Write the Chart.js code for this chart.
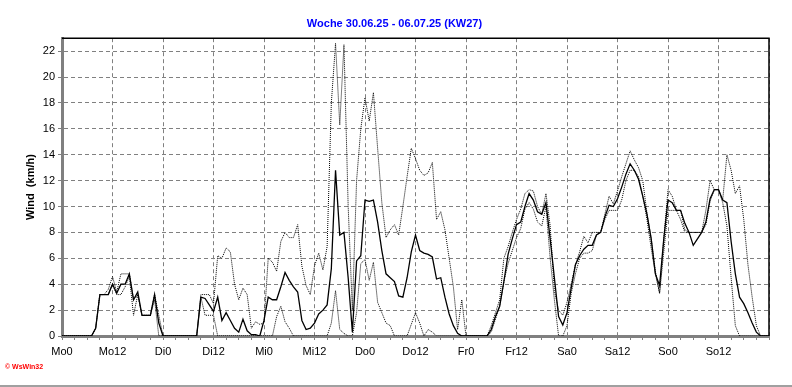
<!DOCTYPE html>
<html lang="de">
<head>
  <title>Wind Woche KW27</title>
  <meta charset="utf-8">
  <script src="https://cdn.jsdelivr.net/npm/chart.js@4.4.1/dist/chart.umd.min.js"></script>
  <style>
    body { margin: 0; background: #fff; }
    #wrap { position: relative; width: 792px; height: 387px; }
    #bottomline { position: absolute; left: 0; top: 385px; width: 792px; height: 2px; background: #a0a0a0; }
    #copy { position: absolute; left: 5px; top: 363px; color: #ff0000; font: bold 7px Arial, "Liberation Sans", sans-serif; }
  </style>
</head>
<body>
<div id="wrap">
  <canvas id="windChart" width="792" height="387"></canvas>
  <div id="copy">&copy; WsWin32</div>
  <div id="bottomline"></div>
</div>

<script>
  // labels under the x axis, one every 12 hours
  const dayLabels = ["Mo0", "Mo12", "Di0", "Di12", "Mi0", "Mi12", "Do0", "Do12", "Fr0", "Fr12", "Sa0", "Sa12", "So0", "So12"]
  const stepHours = 1

  // Wind mean (km/h), one value per hour from Mo 0:00
  const windMean = [
    0, 0, 0, 0, 0, 0, 0, 0, 0.6, 3.2, 3.2, 3.2,
    4.0, 3.3, 4.0, 4.0, 4.8, 2.8, 3.4, 1.6, 1.6, 1.6, 3.2, 1.0,
    0, 0, 0, 0, 0, 0, 0, 0, 0, 3.0, 2.9, 2.4,
    1.9, 3.0, 1.2, 1.8, 1.2, 0.6, 0.3, 1.3, 0.4, 0.1, 0.1, 0,
    1.2, 3.0, 2.8, 2.8, 3.8, 4.9, 4.3, 3.8, 3.4, 1.2, 0.5, 0.6,
    1.0, 1.7, 2.0, 2.4, 5.2, 12.8, 7.8, 8.0, 4.5, 0.3, 5.8, 6.2,
    10.5, 10.4, 10.5, 8.8, 6.6, 4.8, 4.5, 4.2, 3.1, 3.0, 4.5, 6.5,
    7.8, 6.6, 6.4, 6.3, 6.1, 4.4, 4.5, 3.0, 1.7, 0.8, 0.2, 0,
    0, 0, 0, 0, 0, 0, 0.5, 1.5, 2.3, 4.2, 6.3, 7.5,
    8.6, 8.8, 10.0, 11.0, 10.5, 9.6, 9.4, 10.3, 7.5, 4.5, 1.5, 0.85,
    1.8, 3.7, 5.5, 6.2, 6.7, 7.0, 7.0, 7.8, 8.0, 9.2, 10.1, 10.0,
    10.6, 11.5, 12.5, 13.3, 12.8, 12.1, 10.8, 9.4, 7.5, 4.8, 3.9, 7.5,
    10.5, 10.3, 9.7, 9.7, 8.7, 8.0, 7.0, 7.5, 8.0, 8.8, 10.6, 11.3,
    11.3, 10.5, 10.3, 7.3, 4.8, 3.0, 2.5, 1.8, 1.0, 0.3, 0, 0,
    0
  ]

  // Boeen / upper dotted line
  const windMax = [
    0, 0, 0, 0, 0, 0, 0, 0, 0.6, 3.2, 3.2, 3.6,
    4.6, 3.4, 4.8, 4.8, 4.8, 2.8, 3.2, 1.6, 1.6, 1.6, 3.2, 1.6,
    0, 0, 0, 0, 0, 0, 0, 0, 0, 3.2, 3.2, 3.2,
    2.5, 6.2, 6.0, 6.8, 6.5, 4.0, 2.8, 3.7, 3.2, 0.6, 1.1, 0.9,
    1.0, 6.0, 5.7, 5.0, 7.3, 8.0, 7.6, 7.6, 8.6, 5.4, 3.9, 3.2,
    5.4, 6.4, 5.1, 6.9, 18.0, 22.6, 16.3, 22.5, 10.0, 2.0, 12.0, 16.0,
    18.4, 16.6, 18.8, 14.5, 10.3, 7.6, 8.2, 8.6, 7.8, 10.0, 12.3, 14.5,
    13.7, 12.8, 12.4, 12.6, 13.4, 9.0, 9.6, 8.2, 6.0, 3.8, 0.5, 2.8,
    0, 0, 0, 0, 0, 0, 0.8, 1.8, 2.8, 6.0, 6.9, 8.0,
    9.0, 9.8, 11.0, 11.3, 11.2, 10.0, 9.4, 11.0, 8.5, 3.5, 2.0, 1.6,
    2.6, 4.0, 5.5, 6.5, 7.7, 7.2, 8.0, 8.0, 8.0, 9.4, 10.8, 10.2,
    11.2, 12.3, 13.3, 14.3, 13.6, 13.0, 12.0, 9.5, 7.6, 5.0, 3.3, 7.5,
    11.3, 10.8, 9.7, 9.7, 8.2, 8.0, 8.0, 8.0, 8.0, 9.7, 12.0, 11.3,
    11.3, 10.5, 14.0, 12.8, 11.0, 11.6, 9.0, 5.5, 3.0, 0.8, 0, 0,
    0
  ]

  // lower dotted line
  const windMin = [
    0, 0, 0, 0, 0, 0, 0, 0, 0.6, 3.2, 3.2, 3.2,
    4.0, 3.2, 3.2, 3.8, 4.6, 1.6, 3.2, 1.6, 1.6, 1.6, 2.8, 0,
    0, 0, 0, 0, 0, 0, 0, 0, 0, 3.0, 1.6, 1.6,
    1.6, 0, 0, 0, 0, 0, 0, 0, 0, 0, 0, 0,
    0, 0, 0, 1.5, 2.3, 1.1, 0.6, 0, 0, 0, 0, 0,
    0, 0, 0, 0, 1.0, 3.5, 0.5, 0.2, 0, 0, 1.8, 5.6,
    5.9, 4.3, 5.7, 2.6, 1.8, 1.0, 0.8, 0, 0, 0, 0, 0.9,
    1.8, 1.0, 0, 0.5, 0.3, 0, 0, 0, 0, 0, 0, 0,
    0, 0, 0, 0, 0, 0, 0.3, 1.3, 2.3, 4.2, 5.6, 6.6,
    7.6, 8.3, 9.8, 10.3, 9.8, 8.8, 8.5, 10.0, 6.0, 2.8, 0, 0,
    0.8, 3.3, 4.8, 6.0, 6.4, 6.4, 6.6, 7.8, 8.0, 9.0, 9.7, 9.7,
    9.7, 10.5, 12.0, 12.8, 12.8, 12.3, 10.8, 9.0, 6.8, 4.8, 3.3, 6.5,
    9.7, 9.7, 9.7, 9.0, 8.0, 8.0, 8.0, 8.0, 8.0, 8.6, 10.4, 11.3,
    11.3, 10.3, 8.5, 4.5, 0.8, 0, 0, 0, 0, 0, 0, 0,
    0
  ]

  function toPoints(values) {
    return values.map((v, i) => ({ x: i * stepHours, y: v }))
  }

  const fontFam = "Arial, 'Liberation Sans', sans-serif"
  const axisGrey = "#808080"

  // black frame on top and right of the plot
  const framePlugin = {
    id: "frame",
    afterDraw(chart) {
      const a = chart.chartArea
      const ctx = chart.ctx
      ctx.save()
      ctx.strokeStyle = "#000"
      ctx.lineWidth = 1.5
      ctx.beginPath()
      ctx.moveTo(a.left, a.top)
      ctx.lineTo(a.right, a.top)
      ctx.lineTo(a.right, a.bottom)
      ctx.stroke()
      ctx.restore()
    }
  }

  new Chart("windChart", {
    type: "line",
    data: {
      datasets: [
        { data: toPoints(windMax), borderColor: "#000", borderWidth: 1, borderDash: [1, 1], pointRadius: 0, tension: 0, fill: false },
        { data: toPoints(windMin), borderColor: "#000", borderWidth: 1, borderDash: [1, 1], pointRadius: 0, tension: 0, fill: false },
        { data: toPoints(windMean), borderColor: "#000", borderWidth: 1.3, pointRadius: 0, tension: 0, fill: false }
      ]
    },
    plugins: [framePlugin],
    options: {
      responsive: false,
      animation: false,
      layout: { padding: { left: 20, right: 23, top: 0, bottom: 0 } },
      plugins: {
        legend: { display: false },
        tooltip: { enabled: false },
        title: {
          display: true,
          text: "Woche 30.06.25 - 06.07.25 (KW27)",
          color: "#0000ff",
          font: { family: fontFam, size: 11, weight: "bold" },
          padding: { top: 17, bottom: 8 }
        }
      },
      scales: {
        x: {
          type: "linear",
          min: 0,
          max: 168,
          afterFit: function (scale) { scale.height = 51 },
          // in v4 border.dash is the dash of the grid lines
          border: { color: axisGrey, width: 3, dash: [4, 3] },
          grid: {
            color: (c) => (c.tick && c.tick.value % 12 === 0 ? axisGrey : "rgba(0,0,0,0)"),
            tickBorderDash: [],
            tickColor: axisGrey,
            tickLength: 4
          },
          ticks: {
            stepSize: 3,
            autoSkip: false,
            maxRotation: 0,
            padding: 5,
            color: "#000",
            font: { family: fontFam, size: 11 },
            callback: function (value) {
              if (value % 12 !== 0) return ""
              return dayLabels[value / 12] || ""
            }
          }
        },
        y: {
          min: 0,
          max: 23,
          afterFit: function (scale) { scale.width = 42 },
          border: { color: axisGrey, width: 3, dash: [4, 3] },
          grid: {
            color: axisGrey,
            tickBorderDash: [],
            tickColor: axisGrey,
            tickLength: 4
          },
          ticks: {
            stepSize: 2,
            includeBounds: false,
            padding: 3,
            color: "#000",
            font: { family: fontFam, size: 11 }
          },
          title: {
            display: true,
            text: "Wind  (km/h)",
            color: "#000",
            font: { family: fontFam, size: 11, weight: "bold" },
            padding: { top: 4, bottom: 4 }
          }
        }
      }
    }
  })
</script>
</body>
</html>
